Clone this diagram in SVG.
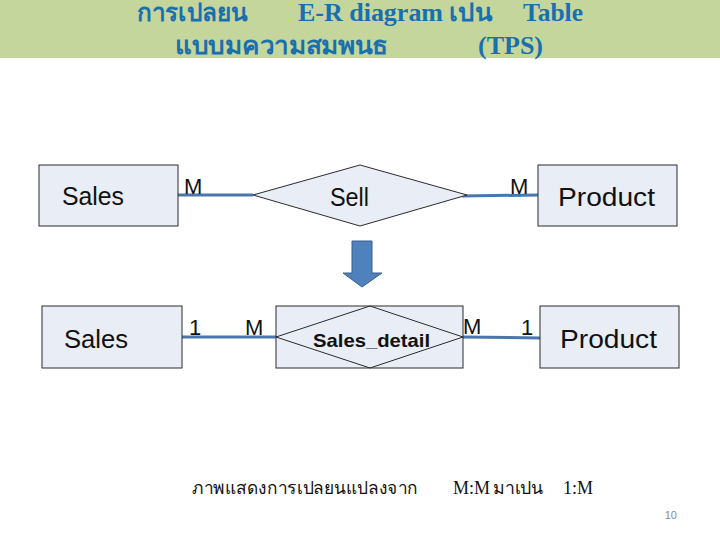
<svg xmlns="http://www.w3.org/2000/svg" width="720" height="540" viewBox="0 0 720 540">
<style>
.title{font-family:"Liberation Serif",serif;font-weight:bold;font-size:25px;fill:#1a6fae}
.ent{fill:#e8edf6;stroke:#2b2b2b;stroke-width:1}
.rel{fill:#e8edf6;stroke:#2b2b2b;stroke-width:1}
.lbl{font-family:"Liberation Sans","DejaVu Sans",sans-serif;font-size:26px;fill:#111}
.card{font-family:"Liberation Sans","DejaVu Sans",sans-serif;font-size:22px;fill:#111}
.conn{stroke:#4a76ad;stroke-width:3;fill:none}
.cap{font-family:"Liberation Serif",serif;font-size:18px;fill:#111}
</style>
<rect x="0" y="0" width="720" height="58" fill="#c4d69c"/>
<g id="title">
<text class="title" x="137" y="21" textLength="111" lengthAdjust="spacingAndGlyphs">การเปลยน</text>
<text class="title" x="298" y="21" textLength="145" lengthAdjust="spacingAndGlyphs">E-R diagram</text>
<text class="title" x="449" y="21" textLength="43" lengthAdjust="spacingAndGlyphs">เปน</text>
<text class="title" x="523" y="21" textLength="60" lengthAdjust="spacingAndGlyphs">Table</text>
<text class="title" x="175" y="54" textLength="213" lengthAdjust="spacingAndGlyphs">แบบมความสมพนธ</text>
<text class="title" x="478" y="54" textLength="65" lengthAdjust="spacingAndGlyphs">(TPS)</text>
</g>
<g id="connectors">
<line class="conn" x1="178" y1="195" x2="253" y2="195"/>
<line class="conn" x1="462" y1="196" x2="538" y2="195"/>
<line class="conn" x1="182" y1="337" x2="276" y2="337"/>
<line class="conn" x1="463" y1="337" x2="540" y2="338"/>
</g>
<g id="sales1">
<rect class="ent" x="39" y="165" width="139" height="61"/>
<text class="lbl" x="62" y="205" textLength="62" lengthAdjust="spacingAndGlyphs">Sales</text>
</g>
<g id="sell">
<polygon class="rel" points="253,195 360,165 467,195 360,226"/>
<text class="lbl" x="330" y="206" textLength="39" lengthAdjust="spacingAndGlyphs">Sell</text>
</g>
<g id="product1">
<rect class="ent" x="538" y="165" width="139" height="61"/>
<text class="lbl" x="558" y="206" textLength="97" lengthAdjust="spacingAndGlyphs">Product</text>
</g>
<g id="cards1">
<text class="card" x="184" y="194">M</text>
<text class="card" x="510" y="194">M</text>
</g>
<g id="arrow">
<polygon points="352,241 372,241 372,273 382,273 362,287 343,273 352,273" fill="#4f81bd" stroke="#3a5f8f" stroke-width="1"/>
</g>
<g id="sales2">
<rect class="ent" x="42" y="306" width="140" height="62"/>
<text class="lbl" x="64" y="348" textLength="64" lengthAdjust="spacingAndGlyphs">Sales</text>
</g>
<g id="sales_detail">
<rect class="ent" x="276" y="306" width="187" height="62"/>
<polygon fill="none" stroke="#2b2b2b" stroke-width="1" points="276,337 370,306 463,337 370,368"/>
<text x="313" y="347" textLength="117" lengthAdjust="spacingAndGlyphs" font-family="Liberation Sans,DejaVu Sans,sans-serif" font-size="19" font-weight="bold" fill="#111">Sales_detail</text>
</g>
<g id="product2">
<rect class="ent" x="540" y="306" width="139" height="62"/>
<text class="lbl" x="560" y="348" textLength="97" lengthAdjust="spacingAndGlyphs">Product</text>
</g>
<g id="cards2">
<text class="card" x="189" y="335">1</text>
<text class="card" x="245" y="335">M</text>
<text class="card" x="463" y="334">M</text>
<text class="card" x="521" y="335">1</text>
</g>
<g id="caption">
<text class="cap" x="192" y="494" textLength="226" lengthAdjust="spacingAndGlyphs">ภาพแสดงการเปลยนแปลงจาก</text>
<text class="cap" x="453" y="494">M:M</text>
<text class="cap" x="493" y="494" textLength="50" lengthAdjust="spacingAndGlyphs">มาเปน</text>
<text class="cap" x="563" y="494">1:M</text>
<text x="677" y="519" text-anchor="end" font-family="Liberation Sans,sans-serif" font-size="11" fill="#8a8a8a">10</text>
</g>
</svg>
